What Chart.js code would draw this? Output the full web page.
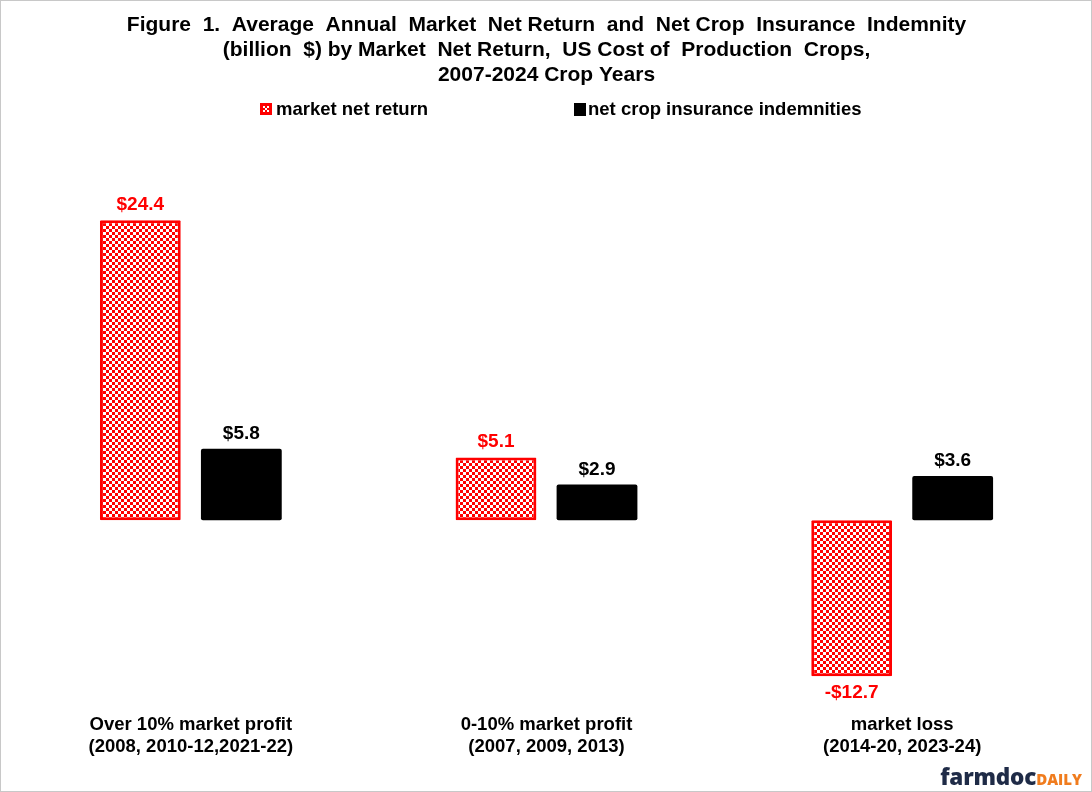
<!DOCTYPE html>
<html lang="en">
<head>
    <meta charset="UTF-8">
    <title>Figure 1</title>
    <script src="https://cdn.jsdelivr.net/npm/chart.js"></script>
    <style>
        body {
            margin: 0;
            padding: 0;
            background: #fff;
            font-family: "Liberation Sans", Arial, sans-serif;
        }
        #wrap {
            position: relative;
            width: 1092px;
            height: 792px;
            box-sizing: border-box;
            border: 1px solid #c8c8c8;
        }
        #logo {
            position: absolute;
            right: 9px;
            bottom: 3px;
            font-family: "Open Sans", "DejaVu Sans", sans-serif;
            font-weight: 800;
            white-space: nowrap;
            line-height: 1;
        }
        #logo .farm { color: #1f2b47; font-size: 22.5px; letter-spacing: -0.2px; }
        #logo .daily { color: #f07c1e; font-size: 15px; }
    </style>
</head>
<body>
    <div id="wrap">
        <canvas id="chart" width="1090" height="790"></canvas>
        <div id="logo"><span class="farm">farmdoc</span><span class="daily">DAILY</span></div>
    </div>

    <script>
        // data (billion $)
        const categories = [
            ["Over 10% market profit", "(2008, 2010-12,2021-22)"],
            ["0-10% market profit", "(2007, 2009, 2013)"],
            ["market loss", "(2014-20, 2023-24)"]
        ];
        const marketNetReturn = [24.4, 5.1, -12.7];
        const netIndemnities = [5.8, 2.9, 3.6];
        const seriesNames = ["market net return", "net crop insurance indemnities"];
        const titleLines = [
            "Figure  1.  Average  Annual  Market  Net Return  and  Net Crop  Insurance  Indemnity",
            "(billion  $) by Market  Net Return,  US Cost of  Production  Crops,",
            "2007-2024 Crop Years"
        ];

        const FONT = "'Liberation Sans', Arial, sans-serif";

        // red / white checkerboard fill
        function checkerPattern() {
            const c = document.createElement("canvas");
            c.width = 6; c.height = 6;
            const g = c.getContext("2d");
            g.fillStyle = "#ffffff";
            g.fillRect(0, 0, 6, 6);
            g.fillStyle = "#ff0000";
            g.fillRect(0, 0, 3, 3);
            g.fillRect(3, 3, 3, 3);
            return g.createPattern(c, "repeat");
        }
        const checker = checkerPattern();

        const valueLabels = {
            id: "valueLabels",
            afterDatasetsDraw(chart) {
                const ctx = chart.ctx;
                ctx.save();
                ctx.font = "bold 19px " + FONT;
                ctx.textAlign = "center";
                ctx.textBaseline = "alphabetic";
                chart.data.datasets.forEach((ds, i) => {
                    const meta = chart.getDatasetMeta(i);
                    ctx.fillStyle = ds.labelColor;
                    meta.data.forEach((bar, j) => {
                        const v = ds.data[j];
                        const txt = (v < 0 ? "-$" : "$") + Math.abs(v).toFixed(1);
                        if (v >= 0) ctx.fillText(txt, bar.x, bar.y - 10);
                        else ctx.fillText(txt, bar.x, bar.y + 22);
                    });
                });
                ctx.restore();
            }
        };

        const customLegend = {
            id: "customLegend",
            afterDraw(chart) {
                const ctx = chart.ctx;
                const y = 108;
                ctx.save();
                ctx.font = "bold 18.5px " + FONT;
                ctx.textBaseline = "middle";
                ctx.textAlign = "left";
                // first item: red box with white dots
                let x = 259;
                ctx.fillStyle = "#ff0000";
                ctx.fillRect(x, y - 6, 12, 12);
                ctx.fillStyle = "#ffffff";
                ctx.fillRect(x + 3, y - 3, 2, 2);
                ctx.fillRect(x + 7, y - 3, 2, 2);
                ctx.fillRect(x + 5, y - 1, 2, 2);
                ctx.fillRect(x + 3, y + 1, 2, 2);
                ctx.fillRect(x + 7, y + 1, 2, 2);
                ctx.fillStyle = "#000";
                ctx.fillText(seriesNames[0], x + 16, y + 1);
                // second item: black box
                x = 573;
                ctx.fillRect(x, y - 6, 12, 13);
                ctx.fillText(seriesNames[1], x + 14, y + 1);
                ctx.restore();
            }
        };

        new Chart(document.getElementById("chart"), {
            type: "bar",
            data: {
                labels: categories,
                datasets: [
                    {
                        label: seriesNames[0],
                        data: marketNetReturn,
                        backgroundColor: checker,
                        borderColor: "#ff0000",
                        borderWidth: 3,
                        borderRadius: 1,
                        borderSkipped: false,
                        labelColor: "#ff0000"
                    },
                    {
                        label: seriesNames[1],
                        data: netIndemnities,
                        backgroundColor: "#000000",
                        borderColor: "#000000",
                        borderWidth: 0,
                        borderRadius: 2,
                        borderSkipped: false,
                        labelColor: "#000000"
                    }
                ]
            },
            options: {
                responsive: false,
                animation: false,
                categoryPercentage: 0.568,
                barPercentage: 0.8,
                layout: { padding: { left: 12, right: 11, bottom: 24 } },
                plugins: {
                    legend: { display: false },
                    tooltip: { enabled: false },
                    title: {
                        display: true,
                        text: titleLines,
                        color: "#000",
                        font: { family: FONT, size: 21, weight: "bold", lineHeight: 1.21 },
                        padding: { top: 11, bottom: 100 }
                    }
                },
                scales: {
                    x: {
                        grid: { display: false, drawTicks: false },
                        border: { display: false },
                        ticks: {
                            color: "#000",
                            padding: 9,
                            maxRotation: 0,
                            font: { family: FONT, size: 18.5, weight: "bold", lineHeight: 1.2 }
                        }
                    },
                    y: {
                        display: false,
                        min: -15,
                        max: 27
                    }
                }
            },
            plugins: [valueLabels, customLegend]
        });
    </script>
</body>
</html>
